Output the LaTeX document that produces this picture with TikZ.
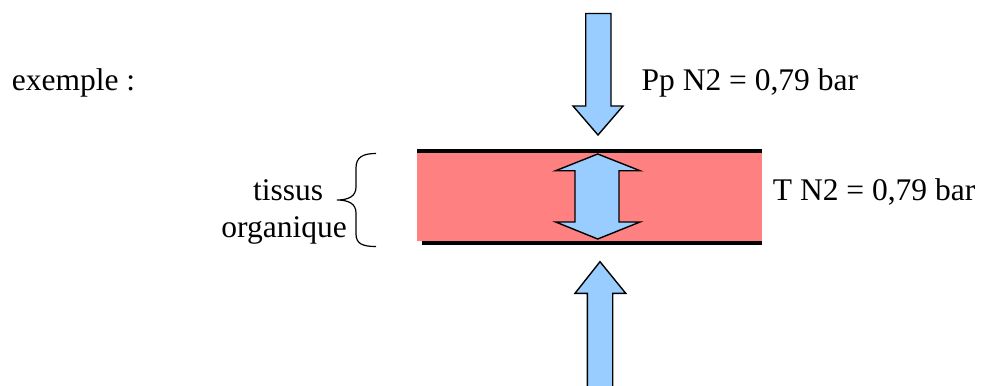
\documentclass[tikz,border=0pt]{standalone}
\usepackage{fontspec}
\setmainfont{Liberation Serif}
\definecolor{skyblue}{HTML}{99CCFF}
\definecolor{tissuepink}{HTML}{FF8080}
\begin{document}
\begin{tikzpicture}[x=1pt,y=-1pt,
  arrowshape/.style={fill=skyblue,draw=black,line width=1.4pt,line join=miter},
  label/.style={inner sep=0pt,font=\fontsize{31.5}{36}\selectfont},
  bar/.style={line width=3.2pt}]
\useasboundingbox (0,0) rectangle (981,385);

% tissue layer
\fill[tissuepink] (416.7,151) rectangle (761.7,241);
\draw[bar] (416.7,151) -- (762,151);
\draw[bar] (421.7,243) -- (762,243);

% incoming arrow from above
\draw[arrowshape] (585.7,13.5) -- (611,13.5) -- (611,106) -- (623,106) -- (598,135)
  -- (573,106) -- (585.7,106) -- cycle;

% two-headed arrow inside the tissue
\draw[arrowshape] (597.7,154) -- (640,170.7) -- (619,170.7) -- (619,222) -- (640,222)
  -- (597.7,239) -- (555.7,222) -- (575,222) -- (575,170.7) -- (555.7,170.7) -- cycle;

% incoming arrow from below
\draw[arrowshape] (600,261.7) -- (625.7,293.3) -- (612.7,293.3) -- (612.7,392)
  -- (587.3,392) -- (587.3,293.3) -- (575,293.3) -- cycle;

% brace
\draw[line width=1.2pt] (376,153.5) .. controls (363,153.5) and (356,157) .. (356,168)
  -- (356,187) .. controls (356,196) and (349,200) .. (337,200)
  .. controls (349,200) and (356,204) .. (356,213)
  -- (356,234) .. controls (356,244) and (363,246.5) .. (376,246.5);

% labels
\node[label,anchor=base west] (ex) at (11.7,90.5) {exemple :};
\node[label,anchor=base west] (pp) at (641.5,90.7) {Pp N2 = 0,79 bar};
\node[label,anchor=base west] (tn) at (772.7,200) {T N2 = 0,79 bar};
\node[label,anchor=base west] (ti) at (253,200) {tissus};
\node[label,anchor=base east] (org) at (347,237.5) {organique};
\end{tikzpicture}
\end{document}
